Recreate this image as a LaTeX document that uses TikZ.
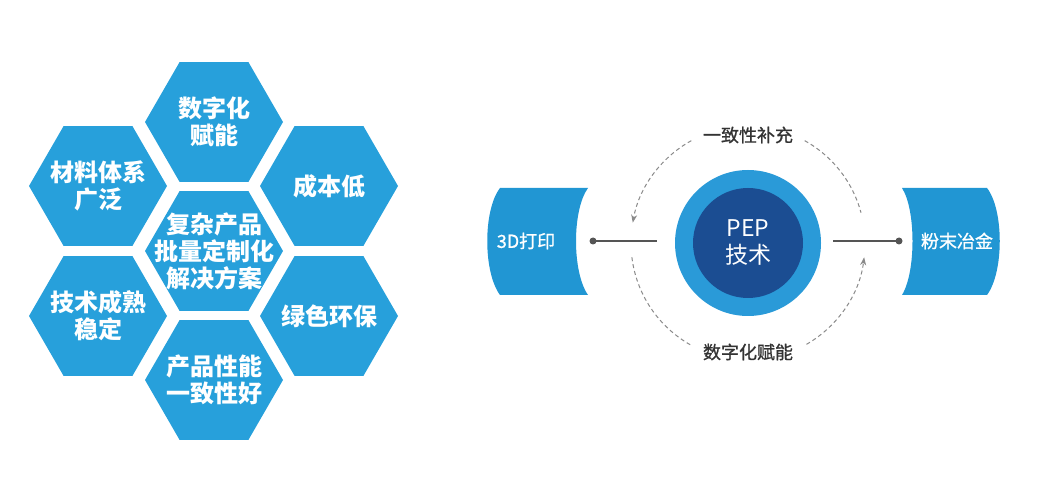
\documentclass[tikz,border=0pt]{standalone}
\usepackage{fontspec}
\setmainfont{Noto Sans CJK SC}
\newfontfamily\medcjk[FakeBold=1]{Noto Sans CJK SC}
\usetikzlibrary{shapes.geometric,positioning,arrows.meta,calc}
\definecolor{hexblue}{HTML}{27A0DB}
\definecolor{sideblue}{HTML}{2196D3}
\definecolor{ringblue}{HTML}{2A9AD8}
\definecolor{coreblue}{HTML}{1B4D92}
\definecolor{linkgray}{HTML}{555555}
\definecolor{dashgray}{HTML}{8A8A8A}
\definecolor{textgray}{HTML}{333333}
\tikzset{hexcell/.style={regular polygon,regular polygon sides=6,minimum size=138pt,inner sep=0pt,fill=hexblue}}
\tikzset{hextext/.style={text=white,align=center,inner sep=0pt,font=\fontsize{24pt}{27pt}\selectfont\bfseries}}

\begin{document}
\begin{tikzpicture}[x=1pt,y=-1pt,
    sidetext/.style={text=white,font=\fontsize{18pt}{22pt}\selectfont\medcjk},
    looptext/.style={text=textgray,font=\fontsize{18pt}{22pt}\selectfont\medcjk},
    dot/.style={circle,fill=linkgray,minimum size=7pt,inner sep=0pt},
    link/.style={draw=linkgray,line width=1.5pt},
    dashline/.style={draw=dashgray,line width=1pt,dash pattern=on 4pt off 3pt},
    tip/.style={-{Stealth[length=8pt,width=6pt]},dashline},
    ]
    \useasboundingbox (0,0) rectangle (1041,502);

    % Honeycomb
    \node[hexcell,label={[hextext]center:{复杂产品\\批量定制化\\解决方案}}] (hcenter) at (214,251) {};
    \node[hexcell,label={[hextext]center:{数字化\\赋能}}] (htop) at (214,122) {};
    \node[hexcell,label={[hextext]center:{材料体系\\广泛}}] (hleftup) at (98,186) {};
    \node[hexcell,label={[hextext]center:{成本低}}] (hrightup) at (329,186) {};
    \node[hexcell,label={[hextext]center:{技术成熟\\稳定}}] (hleftdown) at (98,316) {};
    \node[hexcell,label={[hextext]center:{绿色环保}}] (hrightdown) at (329,316) {};
    \node[hexcell,label={[hextext]center:{产品性能\\一致性好}}] (hbottom) at (214,380) {};

    % PEP core
    \node[circle,fill=ringblue,minimum size=146pt] (pep) at (748,243) {};
    \node[circle,fill=coreblue,minimum size=110pt,text=white,align=center,
      font=\fontsize{23pt}{27pt}\selectfont] (pepcore) at (pep) {PEP\\技术};

    % Side blocks
    \fill[sideblue] (500,188) -- (588,188) .. controls (572,210) and (572,272) .. (588,295)
      -- (500,295) .. controls (483,272) and (483,210) .. (500,188);
    \node[sidetext] (print) at (526,241) {3D打印};
    \fill[sideblue] (902,188) -- (987,188) .. controls (1004,210) and (1004,272) .. (987,295)
      -- (902,295) .. controls (916,272) and (916,210) .. (902,188);
    \node[sidetext] (powder) at (957,241) {粉末冶金};

    % Links
    \coordinate (linkleft) at (657,241);
    \coordinate (linkright) at (833,241);
    \node[dot] (dotleft) at (593,241) {};
    \node[dot] (dotright) at (899,241) {};
    \draw[link] (dotleft.center) -- (linkleft);
    \draw[link] (linkright) -- (dotright.center);

    % Loop
    \node[looptext] (fill) at (748,135) {一致性补充};
    \node[looptext] (digital) at (748,352) {数字化赋能};
    \draw[tip] ($(pep)+(119:117pt)$) arc[start angle=119,end angle=170,radius=117pt];
    \draw[dashline] ($(pep)+(61:117pt)$) arc[start angle=61,end angle=15,radius=117pt];
    \draw[dashline] ($(pep)+(187:117pt)$) arc[start angle=187,end angle=241,radius=117pt];
    \draw[tip] ($(pep)+(300:117pt)$) arc[start angle=300,end angle=353,radius=117pt];

\end{tikzpicture}
\end{document}
